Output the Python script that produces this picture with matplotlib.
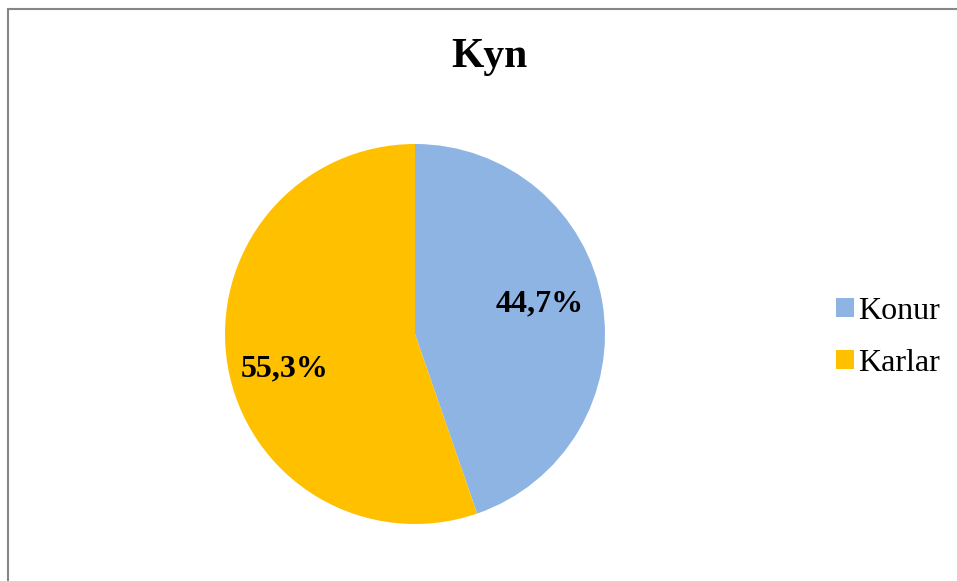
import matplotlib
matplotlib.use("Agg")
import matplotlib.pyplot as plt
import numpy as np
from matplotlib.patches import Rectangle, Patch

labels = ["Konur", "Karlar"]
values = [44.7, 55.3]
pct_labels = ["44,7%", "55,3%"]
colors = ["#8EB4E3", "#FFC000"]
title = "Kyn"

plt.rcParams["font.family"] = ["Liberation Serif", "DejaVu Serif"]

W, H = 957, 581
fig = plt.figure(figsize=(W / 100, H / 100), dpi=100, facecolor="white")

# outer chart border (right/bottom edges run off the image)
fig.patches.append(Rectangle((8 / W, -0.1), 1.2, 1 - 9 / H + 0.1, transform=fig.transFigure,
                             fill=False, edgecolor="#868686", linewidth=1.5))

cx, cy, r = 415, 334, 190
ax = fig.add_axes([(cx - r) / W, 1 - (cy + r) / H, 2 * r / W, 2 * r / H])
wedges, _ = ax.pie(values, colors=colors, startangle=90, counterclock=False,
                   wedgeprops=dict(linewidth=0))
# label placement: (distance from centre, angle offset from wedge middle)
label_pos = [(0.677, 4.0), (0.708, 5.5)]
for w, t, (d, off) in zip(wedges, pct_labels, label_pos):
    ang = np.deg2rad((w.theta1 + w.theta2) / 2 + off)
    ax.text(d * np.cos(ang), d * np.sin(ang), t, ha="center", va="center",
            fontsize=23, fontweight="bold")
ax.set_xlim(-1, 1)
ax.set_ylim(-1, 1)
ax.set_aspect("equal")
ax.axis("off")

fig.text(489 / W, 1 - 57 / H, title, ha="center", va="center", fontsize=30, fontweight="bold")

handles = [Patch(facecolor=c, edgecolor="none") for c in colors]
fig.legend(handles, labels, loc="center left", bbox_to_anchor=(836 / W, 1 - 337.5 / H),
           frameon=False, fontsize=23, handlelength=0.55, handleheight=0.55,
           handletextpad=0.15, labelspacing=0.72, borderpad=0, borderaxespad=0)

fig.savefig("out.png", dpi=100, facecolor="white")
